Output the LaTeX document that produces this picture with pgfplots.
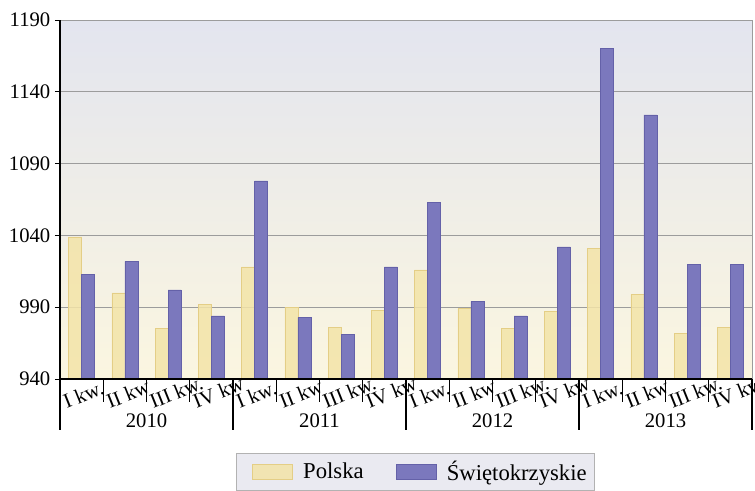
\documentclass[border=0pt]{standalone}
\usepackage{fontspec}
\setmainfont{Liberation Serif}
\usepackage{pgfplots}
\pgfplotsset{compat=1.18}

\definecolor{polska}{HTML}{F3E4A8}
\definecolor{polskaedge}{HTML}{E4CE86}
\definecolor{swiet}{HTML}{7B78BD}
\definecolor{swietedge}{HTML}{6461A8}
\definecolor{bgtop}{HTML}{E3E5EF}
\definecolor{bgbot}{HTML}{FBF6E0}
\definecolor{gridgray}{HTML}{9C9C9C}
\definecolor{legbg}{HTML}{EAEAF1}

\newcommand{\lbl}{\fontsize{15.5}{18}\selectfont}
\newcommand{\leg}{\fontsize{17}{20}\selectfont}

\begin{document}
\begin{tikzpicture}
\useasboundingbox (-45pt,-83.25pt) rectangle (521.25pt,284.25pt);
\begin{axis}[
  scale only axis,
  width=519pt, height=269.25pt,
  ybar=0pt, bar width=9.75pt,
  ymin=940, ymax=1190,
  ytick={940,990,...,1190},
  xmin=-0.5, xmax=15.5,
  xtick={0,...,15},
  xticklabels={I kw.,II kw,III kw.,IV kw,I kw.,II kw,III kw.,IV kw,
               I kw.,II kw,III kw.,IV kw,I kw.,II kw,III kw.,IV kw},
  axis x line*=bottom, axis y line*=left,
  axis line style={-, black, line width=1pt},
  tick align=outside,
  major tick length=3.75pt,
  major x tick style={draw=none},
  tick style={black, line width=0.75pt},
  ymajorgrids,
  major grid style={gridgray, line width=0.75pt},
  axis background/.style={top color=bgtop, middle color=white, bottom color=bgbot},
  /pgf/number format/1000 sep={},
  /pgf/number format/assume math mode=true,
  yticklabel style={font=\lbl},
  xticklabel style={font=\lbl, anchor=base west, xshift=-14.25pt, yshift=-20pt, rotate=22},
  legend style={at={(0.254,-0.206)}, anchor=north west, legend columns=2,
    draw=gray!60, fill=legbg, font=\leg, inner sep=4pt,
    /tikz/every even column/.append style={column sep=14pt}},
  legend image code/.code={\path (-8pt,0pt); \draw[#1] (0pt,-5.5pt) rectangle (30pt,5.5pt); \path (36pt,0pt);},
]
\addplot[fill=polska, fill opacity=0.85, draw=polskaedge] coordinates {
  (0,1039) (1,1000) (2,975) (3,992)
  (4,1018) (5,990) (6,976) (7,988)
  (8,1016) (9,989) (10,975) (11,987)
  (12,1031) (13,999) (14,972) (15,976)};
\addplot[fill=swiet, draw=swietedge] coordinates {
  (0,1013) (1,1022) (2,1002) (3,984)
  (4,1078) (5,983) (6,971) (7,1018)
  (8,1063) (9,994) (10,984) (11,1032)
  (12,1170) (13,1124) (14,1020) (15,1020)};
\legend{Polska,Świętokrzyskie}

% group boundaries at the axis bottom
\pgfplotsinvokeforeach{0,...,16}{\coordinate (m#1) at (axis cs:#1-0.5,940);}
\coordinate (rt) at (axis cs:15.5,1190);
\coordinate (y0) at (axis cs:1.5,940);
\coordinate (y1) at (axis cs:5.5,940);
\coordinate (y2) at (axis cs:9.5,940);
\coordinate (y3) at (axis cs:13.5,940);
\end{axis}

\draw[gridgray, line width=0.75pt] (m16) -- (rt);
\draw[black, line width=1pt] (m0) -- (m16);
\foreach \i in {1,2,3,5,6,7,9,10,11,13,14,15} \draw[black, line width=1pt] (m\i) -- ++(0pt,-17pt);
\foreach \i in {0,4,8,12,16} \draw[black, line width=1pt] (m\i) -- ++(0pt,-38.25pt);
\node[anchor=base, font=\lbl] at ([yshift=-36pt]y0) {2010};
\node[anchor=base, font=\lbl] at ([yshift=-36pt]y1) {2011};
\node[anchor=base, font=\lbl] at ([yshift=-36pt]y2) {2012};
\node[anchor=base, font=\lbl] at ([yshift=-36pt]y3) {2013};
\end{tikzpicture}
\end{document}
